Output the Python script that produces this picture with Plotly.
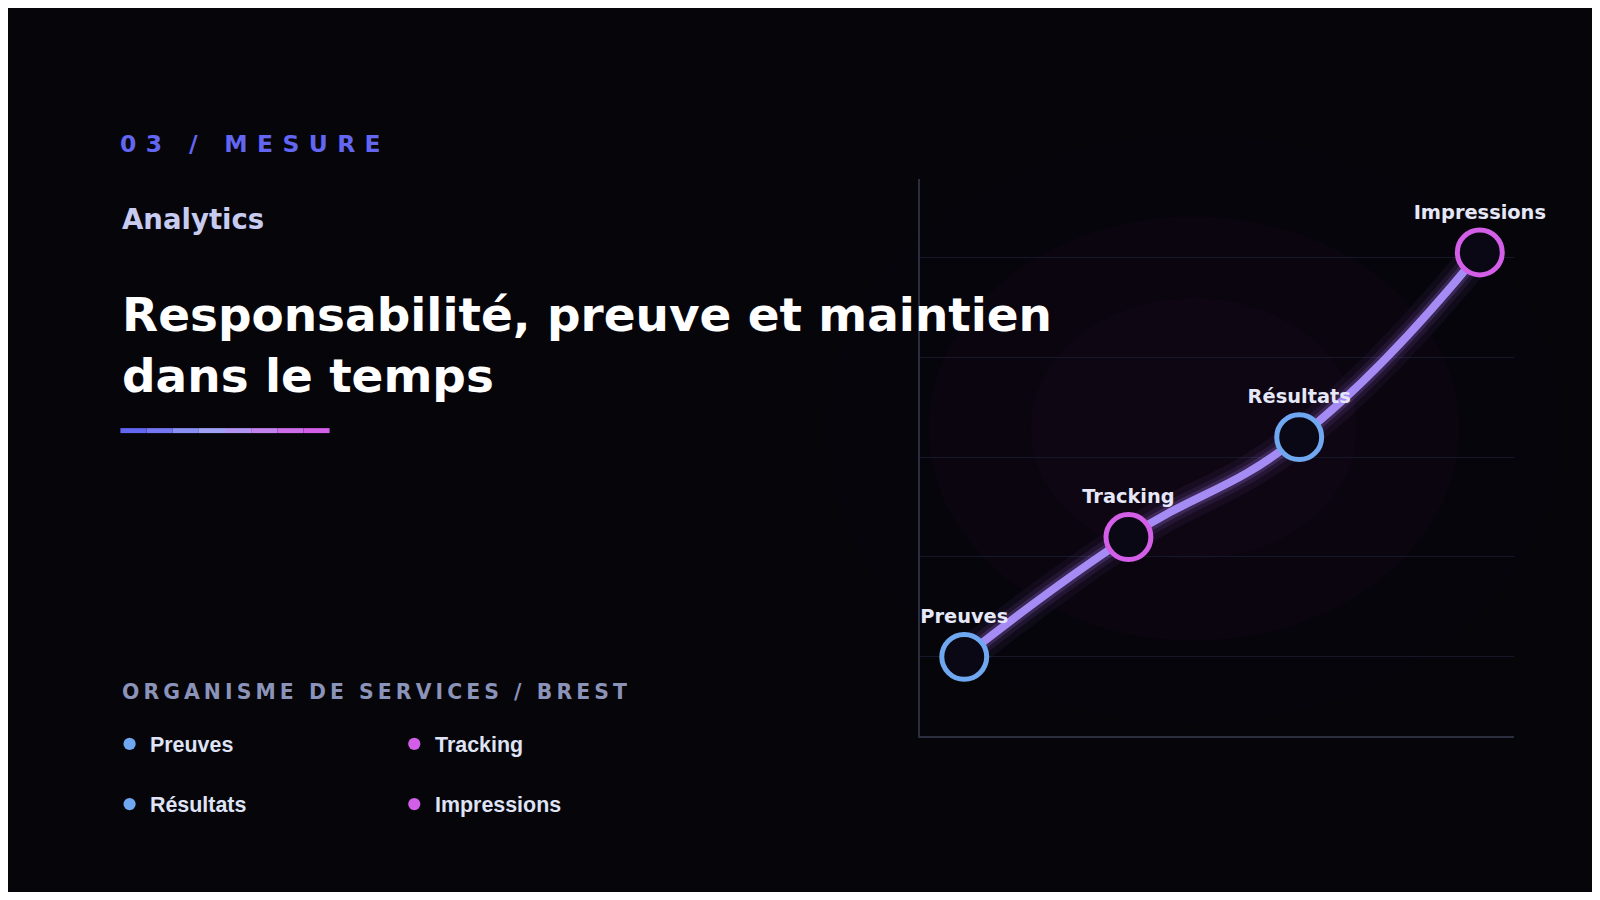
import plotly.graph_objects as go

stages = ["Preuves", "Tracking", "Résultats", "Impressions"]
x_pos = [1.0, 2.0, 3.04, 4.14]
values = [1.0, 2.2, 3.2, 5.05]
marker_colors = ["#6fa8f0", "#d35ee8", "#6fa8f0", "#d35ee8"]
legend_items = ["Preuves", "Tracking", "Résultats", "Impressions"]
legend_colors = ["#6fa8f0", "#d35ee8", "#6fa8f0", "#d35ee8"]

W, H = 1584, 884
RW, RH = 1568, 882
S = 1600 / RW
def px(x): return (x * S - 8) / W
def py(y): return 1 - (y * S - 8) / H

fig = go.Figure()
for w, op in [(34, 0.06), (22, 0.10), (14, 0.18)]:
    fig.add_trace(go.Scatter(x=x_pos, y=values, mode="lines",
                             line=dict(shape="spline", smoothing=1.3, width=w, color=f"rgba(170,120,245,{op})"),
                             hoverinfo="skip", showlegend=False))
fig.add_trace(go.Scatter(x=x_pos, y=values, mode="lines",
                         line=dict(shape="spline", smoothing=1.3, width=8, color="#a58cf5"),
                         hoverinfo="skip", showlegend=False))
fig.add_trace(go.Scatter(x=x_pos, y=values, mode="markers+text", text=stages,
                         textposition="top center", cliponaxis=False,
                         textfont=dict(family="DejaVu Sans", size=19 * S, color="#e6e8f8", weight="bold"),
                         marker=dict(size=44 * S, color="#0a0814", line=dict(width=5, color=marker_colors)),
                         showlegend=False))

fig.update_xaxes(domain=[px(902), px(1484)], range=[0.733, 4.35], showgrid=False, zeroline=False,
                 showticklabels=False, showline=True, linecolor="#2a2d3e", linewidth=2)
fig.update_yaxes(domain=[py(721), py(175)], range=[0.21, 5.79], showgrid=True, gridcolor="#16182a",
                 tickvals=[1, 2, 3, 4, 5], zeroline=False, showticklabels=False,
                 showline=True, linecolor="#2a2d3e", linewidth=2)

shapes = []
for r, op in [(360, 0.03), (260, 0.04), (160, 0.05)]:
    shapes.append(dict(type="circle", xref="paper", yref="paper", layer="below",
                       x0=px(1170 - r), x1=px(1170 + r), y0=py(420 + r * 0.8), y1=py(420 - r * 0.8),
                       fillcolor=f"rgba(110,30,110,{op})", line=dict(width=0)))
grad = ["#6366f1", "#7577f2", "#8a8ff4", "#a0a3f5", "#b294f2", "#c283ee", "#cd6dea", "#d35ee8"]
n = len(grad)
for i, c in enumerate(grad):
    x0 = 118 + (323 - 118) * i / n
    x1 = 118 + (323 - 118) * (i + 1) / n
    shapes.append(dict(type="line", xref="paper", yref="paper", x0=px(x0), x1=px(x1),
                       y0=py(422), y1=py(422), line=dict(color=c, width=5)))
leg_pos = [(127, 729), (406, 729), (127, 788), (406, 788)]
for (lx, ly), c in zip(leg_pos, legend_colors):
    shapes.append(dict(type="circle", xref="paper", yref="paper", x0=px(lx - 6), x1=px(lx + 6),
                       y0=py(ly + 6), y1=py(ly - 6), fillcolor=c, line=dict(width=0)))

ann = []
def t(x, y, s, size, color, fam="DejaVu Sans"):
    ann.append(dict(x=px(x), y=py(y), xref="paper", yref="paper", text=s, showarrow=False,
                    xanchor="left", yanchor="middle", align="left",
                    font=dict(family=fam, size=size * S, color=color, weight="bold")))
sp = "\u2009\u2009"
t(116, 141, sp.join("03 / MESURE"), 23, "#6366f1")
t(118, 215, "Analytics", 27, "#c7cbf0")
t(118, 338, "Responsabilité, preuve et maintien<br>dans le temps", 46, "#ffffff")
t(118, 678, "\u2009".join("ORGANISME DE SERVICES / BREST"), 20, "#8b93b8")
for (lx, ly), s in zip(leg_pos, legend_items):
    t(lx + 18, ly + 1, s, 21, "#dfe3f5", "Liberation Sans")

fig.update_layout(width=W, height=H, margin=dict(l=0, r=0, t=0, b=0),
                  paper_bgcolor="#05050a", plot_bgcolor="rgba(0,0,0,0)",
                  shapes=shapes, annotations=ann)
fig.write_html("out.html")
